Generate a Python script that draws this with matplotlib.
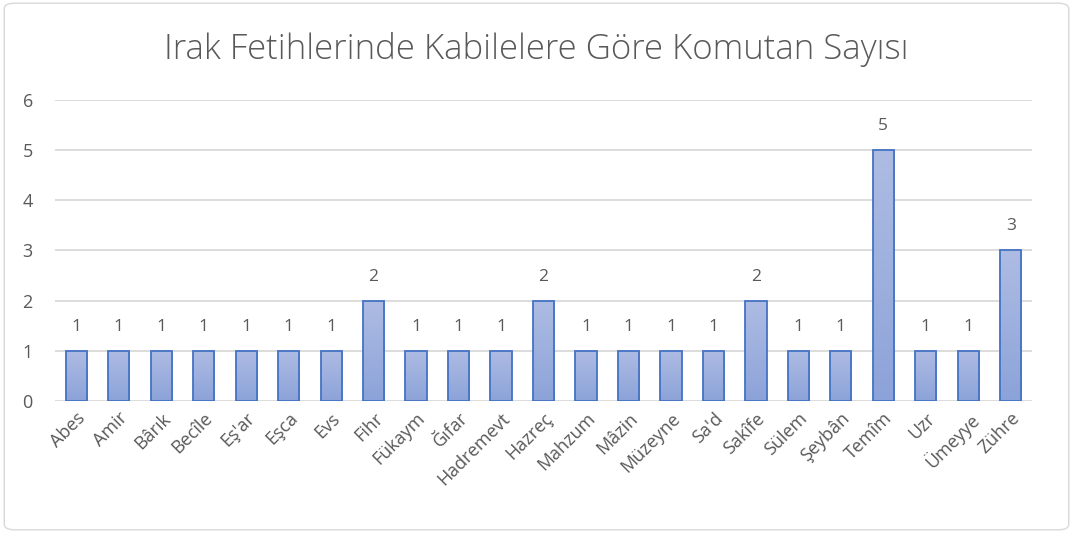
import matplotlib
matplotlib.use('Agg')
import matplotlib.pyplot as plt
import matplotlib.patches as mpatches
from matplotlib.colors import LinearSegmentedColormap
import numpy as np

plt.rcParams['font.family'] = ['Open Sans', 'DejaVu Sans']

# ── Data ──
kabileler = ['Abes', 'Amir', 'Bârık', 'Becîle', "Eş'ar", 'Eşca', 'Evs', 'Fihr',
             'Fükaym', 'Ğıfar', 'Hadremevt', 'Hazreç', 'Mahzum', 'Mâzin',
             'Müzeyne', "Sa'd", 'Sakîfe', 'Sülem', 'Şeybân', 'Temîm', 'Uzr',
             'Ümeyye', 'Zühre']
komutan = [1, 1, 1, 1, 1, 1, 1, 2, 1, 1, 1, 2, 1, 1, 1, 1, 2, 1, 1, 5, 1, 1, 3]

TEXT = '#595959'
GRID = '#D9D9D9'
EDGE = '#4472C4'
grad = LinearSegmentedColormap.from_list('g', ['#8CA3D9', '#AEBCE3'])

fig = plt.figure(figsize=(10.73, 5.33), dpi=100)
fig.patch.set_facecolor('white')
# outer border
fig.patches.append(mpatches.FancyBboxPatch(
    (0.004, 0.006), 0.992, 0.988, boxstyle='round,pad=0,rounding_size=0.01',
    transform=fig.transFigure, facecolor='none', edgecolor='#D9D9D9', lw=1,
    zorder=-1))

ax = fig.add_axes([0.0513, 0.2477, 0.9105, 0.5647])
x = np.arange(len(kabileler))
bars = ax.bar(x, komutan, width=0.5, color='none', edgecolor=EDGE, lw=1.3, zorder=3)

# gradient fill per bar
g = np.linspace(0, 1, 100).reshape(-1, 1)
for b in bars:
    x0, y0 = b.get_x(), b.get_y()
    w, h = b.get_width(), b.get_height()
    im = ax.imshow(g, cmap=grad, aspect='auto', origin='lower',
                   extent=[x0, x0 + w, y0, y0 + h], zorder=2)
    im.set_clip_path(b)

for xi, v in zip(x, komutan):
    ax.text(xi, v + 0.48, str(v), ha='center', va='center', fontsize=12.5, color=TEXT)

ax.set_xlim(-0.5, len(kabileler) - 0.5)
ax.set_ylim(0, 6)
ax.set_yticks(range(7))
ax.yaxis.grid(True, color=GRID, lw=1.3)
ax.set_axisbelow(True)
for s in ax.spines.values():
    s.set_visible(False)
ax.tick_params(axis='both', length=0, colors=TEXT, labelsize=13)
ax.tick_params(axis='y', pad=16)
ax.tick_params(axis='x', pad=6)
ax.set_xticks(x)
ax.set_xticklabels(kabileler, rotation=45, ha='right', rotation_mode='anchor')

fig.text(0.5, 0.907, 'Irak Fetihlerinde Kabilelere Göre Komutan Sayısı',
         ha='center', va='center', fontsize=25, color=TEXT, fontweight='light')

fig.savefig('out.png', dpi=100)
